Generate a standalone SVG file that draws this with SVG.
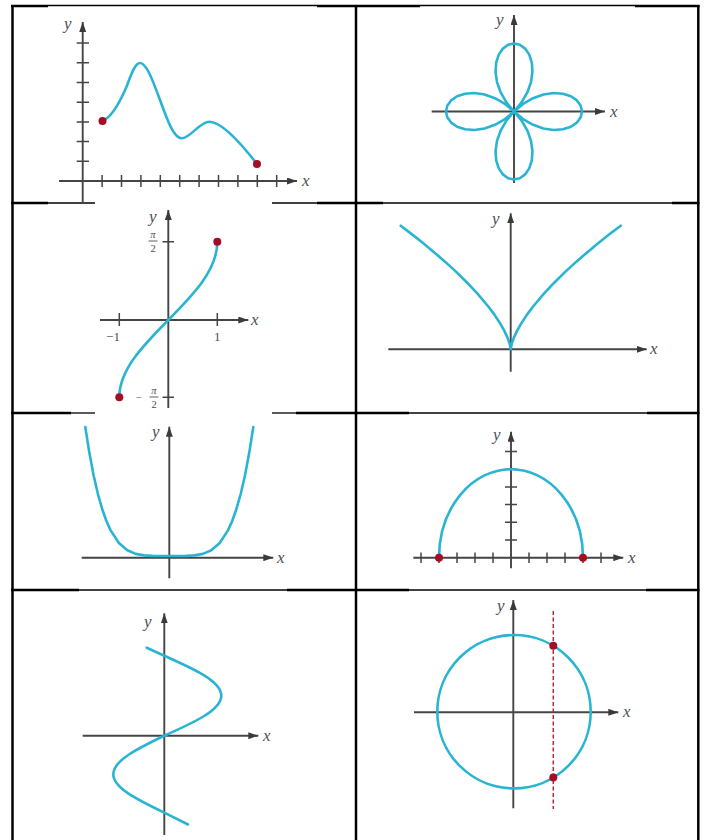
<svg xmlns="http://www.w3.org/2000/svg" width="710" height="840" viewBox="0 0 710 840">
<style>
.ax{stroke:#454545;stroke-width:1.9;fill:none}
.tk{stroke:#454545;stroke-width:1.5;fill:none}
.cv{stroke:#2ab4d4;stroke-width:2.6;fill:none;stroke-linejoin:round;stroke-linecap:round}
.dot{fill:#a50d24}
.lb{font-family:"Liberation Serif",serif;font-style:italic;font-size:17px;fill:#4a4f5c}
.nm{font-family:"Liberation Serif",serif;font-size:13px;fill:#4a4f5c}
.fr{font-family:"Liberation Serif",serif;font-size:10.5px;fill:#4a4f5c}
.gk{stroke:#000;stroke-width:2.5}
.gt{stroke:#000;stroke-width:1.3}
</style>
<defs>
<marker id="arr" markerWidth="10" markerHeight="7" refX="10" refY="3.5" orient="auto" markerUnits="userSpaceOnUse">
<path d="M0,0 L10,3.5 L0,7 z" fill="#3a3a3a"/>
</marker>
<path id="petal" d="M0,0 L9.05,7.59 L19.05,13.34 L29.44,17 L39.61,18.47 L48.95,17.82 L56.88,15.24 L62.93,11.1 L66.71,5.84 L68,0 L66.71,-5.84 L62.93,-11.1 L56.88,-15.24 L48.95,-17.82 L39.61,-18.47 L29.44,-17 L19.05,-13.34 L9.05,-7.59 Z"/>
</defs>
<rect width="710" height="840" fill="#fff"/>
<g id="grid">
<line class="gk" x1="12.5" y1="5" x2="12.5" y2="840"/>
<line class="gk" x1="356" y1="5" x2="356" y2="840"/>
<line class="gk" x1="698.3" y1="5" x2="698.3" y2="840"/>
<line class="gk" x1="11" y1="6" x2="48" y2="6"/>
<line class="gt" x1="48" y1="5.5" x2="317" y2="5.5"/>
<line class="gk" x1="317" y1="6" x2="420" y2="6"/>
<line class="gt" x1="420" y1="5.5" x2="635" y2="5.5"/>
<line class="gk" x1="635" y1="6" x2="699.5" y2="6"/>
<line class="gk" x1="11" y1="203" x2="48" y2="203"/>
<line class="gt" x1="48" y1="203" x2="95" y2="203"/>
<line class="gt" x1="272" y1="203" x2="317" y2="203"/>
<line class="gk" x1="317" y1="203" x2="383" y2="203"/>
<line class="gt" x1="383" y1="203" x2="672" y2="203"/>
<line class="gk" x1="672" y1="203" x2="699.5" y2="203"/>
<line class="gk" x1="11" y1="413" x2="71" y2="413"/>
<line class="gt" x1="71" y1="413" x2="95" y2="413"/>
<line class="gt" x1="272" y1="413" x2="296" y2="413"/>
<line class="gk" x1="296" y1="413" x2="409" y2="413"/>
<line class="gt" x1="409" y1="413" x2="647" y2="413"/>
<line class="gk" x1="647" y1="413" x2="699.5" y2="413"/>
<line class="gk" x1="11" y1="590" x2="79" y2="590"/>
<line class="gt" x1="79" y1="590" x2="287" y2="590"/>
<line class="gk" x1="287" y1="590" x2="409" y2="590"/>
<line class="gt" x1="409" y1="590" x2="646" y2="590"/>
<line class="gk" x1="646" y1="590" x2="699.5" y2="590"/>
</g>
<g id="connectors">
<line class="ax" x1="82.7" y1="204" x2="82.7" y2="22" marker-end="url(#arr)"/>
<line class="ax" x1="59" y1="181" x2="297" y2="181" marker-end="url(#arr)"/>
<line class="ax" x1="514" y1="183" x2="514" y2="15" marker-end="url(#arr)"/>
<line class="ax" x1="431.7" y1="111.5" x2="605" y2="111.5" marker-end="url(#arr)"/>
<line class="ax" x1="168.3" y1="408" x2="168.3" y2="210" marker-end="url(#arr)"/>
<line class="ax" x1="100" y1="320" x2="248.3" y2="320" marker-end="url(#arr)"/>
<line class="ax" x1="510.7" y1="371.7" x2="510.7" y2="213.3" marker-end="url(#arr)"/>
<line class="ax" x1="388.3" y1="349.3" x2="646.7" y2="349.3" marker-end="url(#arr)"/>
<line class="ax" x1="169.3" y1="578.3" x2="169.3" y2="426.7" marker-end="url(#arr)"/>
<line class="ax" x1="81.7" y1="557.7" x2="273.3" y2="557.7" marker-end="url(#arr)"/>
<line class="ax" x1="511" y1="568.3" x2="511" y2="431.7" marker-end="url(#arr)"/>
<line class="ax" x1="413.3" y1="557.7" x2="623.3" y2="557.7" marker-end="url(#arr)"/>
<line class="ax" x1="164.3" y1="835" x2="164.3" y2="613.3" marker-end="url(#arr)"/>
<line class="ax" x1="82.7" y1="735.7" x2="258.3" y2="735.7" marker-end="url(#arr)"/>
<line class="ax" x1="513.3" y1="808.3" x2="513.3" y2="600" marker-end="url(#arr)"/>
<line class="ax" x1="414" y1="712.3" x2="618.3" y2="712.3" marker-end="url(#arr)"/>
</g>
<g id="panel1">
<path class="tk" d="M76.7,161.3H89M76.7,141.6H89M76.7,121.9H89M76.7,102.2H89M76.7,82.5H89M76.7,62.8H89M76.7,43.1H89M102.1,175V187M121.5,175V187M140.9,175V187M160.3,175V187M179.7,175V187M199.1,175V187M218.5,175V187M237.9,175V187M257.3,175V187M276.7,175V187"/>
<path class="cv" d="M102.5,121 C110,118 119,104 126,88 C129,81.1 134,63 140,63 C146,63 152,78 160,100 C168,122 174,138.3 181.7,138.3 C190,138.3 200,121.7 209.3,121.7 C222,121.7 240,142 257,164"/>
<circle class="dot" cx="102.5" cy="121" r="4"/>
<circle class="dot" cx="257" cy="164" r="4"/>
<text class="lb" x="64" y="29">y</text>
<text class="lb" x="302" y="186">x</text>
</g>
<g id="panel2">
<g class="cv" transform="translate(514,111.5)">
<use href="#petal"/>
<use href="#petal" transform="rotate(90)"/>
<use href="#petal" transform="rotate(180)"/>
<use href="#petal" transform="rotate(270)"/>
</g>
<text class="lb" x="496" y="25">y</text>
<text class="lb" x="610" y="117">x</text>
</g>
<g id="panel3">
<path class="tk" d="M119.3,313V326M217.3,313V326M162.5,241.7H174M162.5,397.3H174"/>
<path class="cv" d="M119.3,397.3 C119.3,369.8 143.2,345.4 168.3,320 C193.4,294.6 217.3,270.2 217.3,241.7"/>
<circle class="dot" cx="217.3" cy="241.7" r="4"/>
<circle class="dot" cx="119.3" cy="397.3" r="4"/>
<text class="lb" x="149" y="222">y</text>
<text class="lb" x="251" y="325">x</text>
<text class="nm" x="113" y="341" text-anchor="middle">−1</text>
<text class="nm" x="217.3" y="341" text-anchor="middle">1</text>
<text class="fr" x="153" y="237.5" text-anchor="middle" font-style="italic">π</text>
<line x1="148.5" y1="241" x2="157.5" y2="241" stroke="#4a4f5c" stroke-width="0.9"/>
<text class="fr" x="153" y="251.5" text-anchor="middle">2</text>
<text class="fr" x="139" y="400.5" text-anchor="middle">−</text>
<text class="fr" x="154" y="393.5" text-anchor="middle" font-style="italic">π</text>
<line x1="149.5" y1="397" x2="158.5" y2="397" stroke="#4a4f5c" stroke-width="0.9"/>
<text class="fr" x="154" y="407.5" text-anchor="middle">2</text>
</g>
<g id="panel4">
<path class="cv" d="M400.7,225.7 L411.7,234.1 L422.7,242.8 L433.7,251.9 L444.7,261.4 L455.7,271.4 L466.7,282.2 L477.7,293.9 L488.7,307 L494.2,314.4 L499.7,322.7 L504.1,330.4 L507.4,337.4 L509.6,343.6 L510.7,349.3 L511.8,343.6 L514,337.4 L517.3,330.4 L521.7,322.7 L527.2,314.4 L532.7,307 L543.7,293.9 L554.7,282.2 L565.7,271.4 L576.7,261.4 L587.7,251.9 L598.7,242.8 L609.7,234.1 L620.7,225.7"/>
<text class="lb" x="492" y="224">y</text>
<text class="lb" x="650" y="354">x</text>
</g>
<g id="panel5">
<path class="cv" d="M85.3,427 L89.5,453.6 L93.7,475.7 L97.9,494 L102.1,508.7 L106.3,520.7 L110.5,530.1 L118.9,543 L127.3,550.3 L135.7,553.9 L144.1,555.4 L152.5,555.9 L160.9,556 L169.3,556 L177.7,556 L186.1,555.9 L194.5,555.4 L202.9,553.9 L211.3,550.3 L219.7,543 L228.1,530.1 L232.3,520.7 L236.5,508.7 L240.7,494 L244.9,475.7 L249.1,453.6 L253.3,427"/>
<text class="lb" x="152" y="437">y</text>
<text class="lb" x="277" y="563">x</text>
</g>
<g id="panel6">
<path class="tk" d="M421,552.4V563M439,552.4V563M457,552.4V563M475,552.4V563M493,552.4V563M529,552.4V563M547,552.4V563M565,552.4V563M583,552.4V563M601,552.4V563M505,540H517M505,522.3H517M505,504.6H517M505,486.9H517M505,469.2H517M505,451.5H517"/>
<path class="cv" d="M439,557.7 A72,88.5 0 0 1 583,557.7"/>
<circle class="dot" cx="439" cy="557.7" r="4"/>
<circle class="dot" cx="583" cy="557.7" r="4"/>
<text class="lb" x="493" y="440">y</text>
<text class="lb" x="628" y="563">x</text>
</g>
<g id="panel7">
<path class="cv" d="M146.7,647.7 L164.3,655.7 C193.5,668.7 221.3,681.2 221.3,695.7 C221.3,710.2 193.5,722.7 164.3,735.7 C138.2,748.3 113.3,760.3 113.3,774.2 C113.3,788.1 138.2,800.1 164.3,812.7 L188,824.5"/>
<text class="lb" x="144" y="627">y</text>
<text class="lb" x="263" y="741">x</text>
</g>
<g id="panel8">
<circle class="cv" cx="514" cy="711.7" r="76.7"/>
<line x1="553.3" y1="611" x2="553.3" y2="809" stroke="#c0203a" stroke-width="1.5" stroke-dasharray="4 2.5"/>
<circle class="dot" cx="553.3" cy="645.8" r="4"/>
<circle class="dot" cx="553.3" cy="777.6" r="4"/>
<text class="lb" x="497" y="611">y</text>
<text class="lb" x="623" y="717">x</text>
</g>
</svg>
